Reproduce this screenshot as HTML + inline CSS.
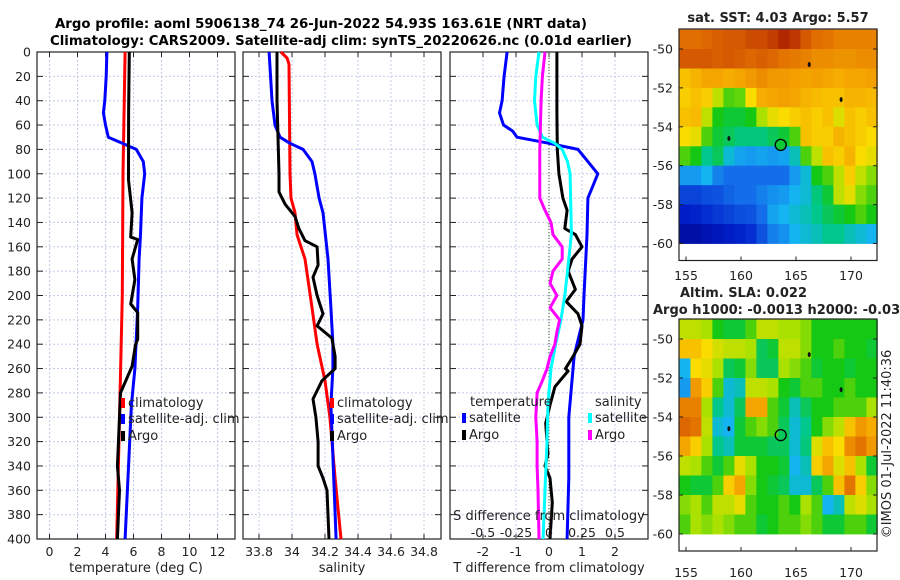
<!DOCTYPE html>
<html><head><meta charset="utf-8"><style>
html,body{margin:0;padding:0;background:#fff;}
svg{display:block;font-family:"DejaVu Sans","Liberation Sans",sans-serif;}
</style></head><body>
<svg id="fig" width="900" height="580" viewBox="0 0 900 580" xmlns="http://www.w3.org/2000/svg">
<text x="321" y="28" font-size="13" font-weight="bold" text-anchor="middle" textLength="532" lengthAdjust="spacingAndGlyphs">Argo profile: aoml 5906138_74 26-Jun-2022 54.93S 163.61E (NRT data)</text>
<text x="341" y="45" font-size="13" font-weight="bold" text-anchor="middle" textLength="582" lengthAdjust="spacingAndGlyphs">Climatology: CARS2009. Satellite-adj clim: synTS_20220626.nc (0.01d earlier)</text>
<g id="panels"></g>
<g id="maps"></g>
<text transform="translate(891,444) rotate(-90)" font-size="13" text-anchor="middle" fill="#222">©IMOS 01-Jul-2022 11:40:36</text>
</svg>
<script>
// ---------- profile data ----------
const tDepth = [0,20,40,50,60,70,75,80,90,100,120,150,170,210,260,290,400];
const tSat = [4.1,4.05,3.95,3.85,4.0,4.2,5.2,6.2,6.7,6.8,6.6,6.5,6.4,6.3,6.1,5.85,5.4];
const tClimDepth = [0,100,200,300,400];
const tClim = [5.4,5.25,5.2,5.0,4.8];
const tArgoDepth = [0,50,105,132,152,154,170,187,207,214,236,240,258,266,280,300,340,360,400];
const tArgo = [5.7,5.65,5.64,5.9,5.8,6.3,5.9,6.1,5.8,6.3,6.3,6.15,5.9,5.6,5.07,5.0,4.85,5.0,4.85];

const sArgoDepth = [0,40,70,100,115,125,135,145,155,160,175,185,200,215,225,235,250,260,270,285,300,320,340,350,360,400];
const sArgo = [33.909,33.909,33.915,33.921,33.921,33.958,34.018,34.042,34.079,34.152,34.158,34.127,34.152,34.188,34.152,34.242,34.261,34.261,34.182,34.127,34.145,34.158,34.158,34.188,34.212,34.224];
const sClimDepth = [0,5,10,100,120,132,150,170,210,240,270,300,350,400];
const sClim = [33.933,33.970,33.982,33.988,33.994,34.018,34.030,34.079,34.121,34.152,34.2,34.230,34.261,34.297];
const sSatDepth = [0,40,60,70,75,80,90,100,105,120,132,170,210,240,260,290,400];
const sSat = [33.861,33.879,33.897,33.927,33.988,34.067,34.121,34.139,34.145,34.164,34.188,34.218,34.236,34.248,34.248,34.236,34.267];

const dTSatDepth = [0,20,40,50,60,65,70,75,80,90,100,110,120,150,200,220,240,250,300,350,400];
const dTSat = [-1.27,-1.36,-1.42,-1.5,-1.38,-1.1,-0.97,0.0,0.88,1.18,1.48,1.33,1.18,1.15,1.06,1.03,0.85,0.76,0.6,0.6,0.55];
const dTArgoDepth = [0,50,80,100,120,130,145,150,160,170,180,195,205,215,225,240,250,260,262,275,290,305,320,330,340,350,370,400];
const dTArgo = [0.24,0.24,0.25,0.3,0.42,0.55,0.48,0.8,1.0,0.7,0.58,0.8,0.52,0.88,1.0,0.94,0.73,0.5,0.58,0.18,0.03,-0.1,-0.06,-0.03,-0.12,0.03,0.1,0.03];
const dSSatDepth = [0,20,40,60,70,75,80,90,100,150,180,200,220,240,260,290,320,360,400];
const dSSat = [-0.076,-0.1,-0.11,-0.09,-0.05,0.045,0.1,0.14,0.16,0.17,0.14,0.12,0.09,0.05,0.015,-0.008,-0.015,-0.03,-0.045];
const dSArgoDepth = [0,20,40,80,120,130,140,150,160,170,180,190,200,210,220,230,240,250,260,270,280,300,320,340,360,400];
const dSArgo = [-0.03,-0.05,-0.06,-0.07,-0.07,-0.03,0.015,0.03,0.1,0.1,0.03,0.008,0.06,0.008,0.08,0.06,0.045,0.008,-0.015,-0.05,-0.09,-0.1,-0.09,-0.09,-0.083,-0.076];

const depthTicks = [0,20,40,60,80,100,120,140,160,180,200,220,240,260,280,300,320,340,360,380,400];
const tTicks = [0,2,4,6,8,10,12];
const sTicks = [33.8,34,34.2,34.4,34.6,34.8];
const sTickLabels = ["33.8","34","34.2","34.4","34.6","34.8"];
const dTTicks = [-2,-1,0,1,2];
const dSTicks = [-0.5,-0.25,0,0.25,0.5];
const dSTickLabels = ["-0.5","-0.25","0","0.25","0.5"];

// ---------- map data (rows: lat -49..-60, cols: lon 154.4..172.4, 1 deg) ----------
const sstGrid = [
[.85,.85,.86,.87,.88,.88,.9,.9,.92,.95,.93,.88,.85,.84,.82,.82,.82,.82],
[.88,.88,.88,.87,.88,.87,.86,.87,.86,.84,.83,.82,.80,.80,.79,.79,.80,.80],
[.72,.74,.76,.76,.75,.76,.78,.80,.78,.78,.77,.76,.77,.76,.75,.76,.76,.77],
[.70,.72,.70,.62,.55,.56,.68,.75,.76,.77,.76,.74,.73,.72,.72,.74,.74,.73],
[.72,.73,.62,.52,.50,.50,.52,.60,.66,.68,.70,.72,.70,.72,.65,.72,.70,.72],
[.68,.66,.55,.50,.48,.46,.46,.46,.48,.50,.55,.72,.70,.70,.74,.72,.70,.68],
[.55,.52,.45,.48,.40,.36,.35,.36,.35,.36,.42,.55,.62,.72,.70,.74,.68,.66],
[.35,.35,.38,.32,.30,.30,.30,.30,.30,.30,.35,.40,.52,.55,.62,.70,.62,.58],
[.22,.22,.24,.25,.28,.30,.30,.32,.34,.35,.38,.40,.46,.50,.62,.66,.58,.55],
[.15,.16,.18,.20,.22,.24,.25,.30,.36,.38,.40,.42,.45,.48,.50,.52,.55,.52],
[.08,.08,.10,.12,.14,.16,.18,.25,.32,.34,.38,.40,.42,.45,.45,.42,.40,.38]];
const slaGrid = [
[.62,.62,.60,.52,.50,.50,.55,.62,.62,.60,.60,.58,.52,.52,.52,.52,.52,.52],
[.72,.72,.68,.64,.62,.62,.60,.48,.50,.62,.62,.58,.52,.52,.55,.52,.52,.50],
[.38,.68,.66,.60,.48,.50,.58,.48,.48,.60,.58,.55,.50,.52,.52,.50,.52,.52],
[.35,.78,.70,.55,.40,.42,.62,.62,.60,.52,.50,.55,.55,.52,.52,.55,.52,.52],
[.82,.82,.60,.45,.40,.48,.76,.76,.55,.50,.42,.48,.52,.52,.55,.55,.55,.60],
[.86,.84,.62,.40,.38,.50,.55,.58,.55,.48,.40,.45,.52,.58,.62,.72,.78,.75],
[.76,.70,.60,.45,.42,.50,.50,.50,.48,.48,.40,.46,.65,.72,.68,.80,.84,.78],
[.62,.60,.55,.50,.55,.66,.60,.52,.52,.50,.38,.42,.70,.76,.65,.72,.60,.50],
[.52,.50,.50,.55,.70,.76,.58,.52,.50,.48,.40,.40,.48,.55,.72,.84,.70,.58],
[.58,.60,.55,.62,.62,.66,.55,.52,.52,.55,.52,.60,.55,.38,.42,.62,.65,.60],
[.55,.60,.58,.60,.58,.55,.55,.50,.52,.55,.55,.58,.55,.50,.50,.55,.55,.50]];
const latTicks = [-50,-52,-54,-56,-58,-60];
const lonTicks = [155,160,165,170];
const argoLon = 163.61, argoLat = -54.93, argoSSTval = 0.5;
const islandLon = [166.2,169.1,158.9], islandLat = [-50.8,-52.6,-54.6];

const NS = "http://www.w3.org/2000/svg";
function mk(tag, attrs, parent){ const e=document.createElementNS(NS,tag); for(const k in attrs) e.setAttribute(k,attrs[k]); parent.appendChild(e); return e; }
const panels = document.getElementById('panels');
const maps = document.getElementById('maps');
const Y0=52, Y1=539;
const yD = d => Y0 + (Y1-Y0)*d/400;

function panel(name, left, right, xfun, ticks, labels, showY){
  const g = mk('g',{},panels);
  
  
  depthTicks.forEach(d=>{ mk('line',{x1:left,x2:right,y1:yD(d),y2:yD(d),stroke:'#c3cbea','stroke-width':1,'stroke-dasharray':'2,2'},g); });
  ticks.forEach((t,i)=>{
    const x=xfun(t);
    mk('line',{x1:x,x2:x,y1:Y0,y2:Y1,stroke:'#c3cbea','stroke-width':1,'stroke-dasharray':'2,2'},g);
    mk('line',{x1:x,x2:x,y1:Y1,y2:Y1-5,stroke:'#222'},g);
    mk('line',{x1:x,x2:x,y1:Y0,y2:Y0+5,stroke:'#222'},g);
    const tx = mk('text',{x:x,y:556,'font-size':12.5,'text-anchor':'middle',fill:'#222'},g);
    tx.textContent = labels[i];
    
    
  });
  depthTicks.forEach(d=>{
    mk('line',{x1:left,x2:left+6,y1:yD(d),y2:yD(d),stroke:'#222'},g);
    mk('line',{x1:right,x2:right-6,y1:yD(d),y2:yD(d),stroke:'#222'},g);
    if(showY){
      const tx = mk('text',{x:31,y:yD(d)+4.5,'font-size':12.5,'text-anchor':'end',fill:'#222'},g);
      tx.textContent = d;
      
      
    }
  });
  mk('rect',{x:left,y:Y0,width:right-left,height:Y1-Y0,fill:'none',stroke:'#222','stroke-width':1.2},g);
  return g;
}
function line(g, name, xs, ds, xfun, color){
  const pts = xs.map((v,i)=> xfun(v).toFixed(1)+','+yD(ds[i]).toFixed(1)).join(' ');
  const p = mk('polyline',{points:pts,fill:'none',stroke:color,'stroke-width':3,'stroke-linejoin':'round'},g);
  
  
}
function label(g,name,x,y,txt,anchor,size,weight){
  const t = mk('text',{x:x,y:y,'font-size':size||13,'text-anchor':anchor||'start',fill:'#222'},g);
  if(weight) t.setAttribute('font-weight',weight);
  t.textContent = txt;
  
  
  return t;
}
function legendEntry(g,name,x,y,color,txt){
  mk('rect',{x:x,y:y-9,width:4,height:10,fill:color},g);
  label(g,name,x+7,y,txt);
}

// Panel 1 temperature
const xT = t => 49.5 + 14*t;
const g1 = panel('temperature-panel',37,235,xT,tTicks,tTicks.map(String),true);
line(g1,'temperature-climatology-line',tClim,tClimDepth,xT,'#ff0000');
line(g1,'temperature-satellite-line',tSat,tDepth,xT,'#0000ff');
line(g1,'temperature-argo-line',tArgo,tArgoDepth,xT,'#000');
legendEntry(g1,'legend-climatology',121,407,'#ff0000','climatology');
legendEntry(g1,'legend-satellite-adj',121,423,'#0000ff','satellite-adj. clim');
legendEntry(g1,'legend-argo',121,440,'#000','Argo');
label(g1,'x-axis-title-temperature',136,572,'temperature (deg C)','middle');

// Panel 2 salinity
const xS = s => 259 + 165*(s-33.8);
const g2 = panel('salinity-panel',243,441,xS,sTicks,sTickLabels,false);
line(g2,'salinity-climatology-line',sClim,sClimDepth,xS,'#ff0000');
line(g2,'salinity-satellite-line',sSat,sSatDepth,xS,'#0000ff');
line(g2,'salinity-argo-line',sArgo,sArgoDepth,xS,'#000');
legendEntry(g2,'legend-climatology-sal',330,407,'#ff0000','climatology');
legendEntry(g2,'legend-satellite-adj-sal',330,423,'#0000ff','satellite-adj. clim');
legendEntry(g2,'legend-argo-sal',330,440,'#000','Argo');
label(g2,'x-axis-title-salinity',342,572,'salinity','middle');

// Panel 3 differences
const xDT = t => 549 + 33*t;
const xDS = s => 549 + 132*s;
const g3 = panel('difference-panel',450,648,xDT,dTTicks,dTTicks.map(String),false);
mk('line',{x1:xDT(0),x2:xDT(0),y1:Y0,y2:Y1,stroke:'#335522','stroke-width':1,'stroke-dasharray':'1,2'},g3);
line(g3,'tdiff-satellite-line',dTSat,dTSatDepth,xDT,'#0000ff');
line(g3,'tdiff-argo-line',dTArgo,dTArgoDepth,xDT,'#000');
line(g3,'sdiff-satellite-line',dSSat,dSSatDepth,xDS,'#00ffff');
line(g3,'sdiff-argo-line',dSArgo,dSArgoDepth,xDS,'#ff00ff');
label(g3,'legend-temperature-title',470,406,'temperature');
legendEntry(g3,'legend-tdiff-satellite',462,422,'#0000ff','satellite');
legendEntry(g3,'legend-tdiff-argo',462,439,'#000','Argo');
label(g3,'legend-salinity-title',595,406,'salinity');
legendEntry(g3,'legend-sdiff-satellite',588,422,'#00ffff','satellite');
legendEntry(g3,'legend-sdiff-argo',588,439,'#ff00ff','Argo');
label(g3,'s-diff-axis-title',549,520,'S difference from climatology','middle');
dSTicks.forEach((s,i)=>{ label(g3,'s-diff-tick-label',xDS(s),537,dSTickLabels[i],'middle',12.5); });
label(g3,'x-axis-title-tdiff',549,572,'T difference from climatology','middle');

// ---------- maps ----------
const cstops = [[0,[0,0,130]],[0.15,[0,30,200]],[0.3,[20,110,235]],[0.38,[20,180,240]],[0.45,[0,200,140]],[0.52,[20,200,20]],[0.6,[170,225,0]],[0.68,[250,220,0]],[0.76,[245,165,0]],[0.85,[225,110,0]],[0.93,[190,55,0]],[1,[150,0,0]]];
function cmap(v){
  v=Math.max(0,Math.min(1,v));
  for(let i=1;i<cstops.length;i++){
    if(v<=cstops[i][0]){ const a=cstops[i-1],b=cstops[i]; const f=(v-a[0])/(b[0]-a[0]);
      return 'rgb('+a[1].map((c,k)=>Math.round(c+(b[1][k]-c)*f)).join(',')+')'; }
  }
  return 'rgb(150,0,0)';
}
function drawMap(name, grid, top, lat50y, bottom, titleLines, showCircleFill, xLabY){
  const g = mk('g',{},maps);
  
  
  const left=679,right=877;
  const lonX = lon => 686 + (lon-155)*11;
  const latY = lat => lat50y + (-50-lat)*((bottom - lat50y)/10);
  const dataBottom = latY(-60);
  grid.forEach((row,r)=>{
    row.forEach((v,c)=>{
      const x0=lonX(154.4+c), x1=lonX(155.4+c);
      const y0=latY(-49+(-r)) , y1=latY(-50-r);
      const yy0 = Math.max(top, y0);
      const cell = mk('rect',{x:x0.toFixed(1),y:yy0.toFixed(1),width:(x1-x0+0.4).toFixed(1),height:(y1-yy0+0.4).toFixed(1),fill:cmap(v)},g);
      
      
    });
  });
  islandLon.forEach((lo,i)=>{ mk('ellipse',{cx:lonX(lo),cy:latY(islandLat[i]),rx:1.5,ry:2.5,fill:'#111'},g); });
  const circ = mk('circle',{cx:lonX(argoLon),cy:latY(argoLat),r:5.5,fill:showCircleFill?cmap(argoSSTval):'none',stroke:'#000','stroke-width':1.3},g);
  
  
  const fb = dataBottom + 17;
  mk('rect',{x:left,y:top,width:right-left,height:fb-top,fill:'none',stroke:'#222','stroke-width':1.2},g);
  latTicks.forEach(l=>{
    const y=latY(l);
    mk('line',{x1:left,x2:left+4,y1:y,y2:y,stroke:'#222'},g);
    mk('line',{x1:right,x2:right-4,y1:y,y2:y,stroke:'#222'},g);
    label(g,'map-lat-tick-label',673,y+4.5,String(l),'end',12.5);
  });
  lonTicks.forEach(l=>{
    const x=lonX(l);
    mk('line',{x1:x,x2:x,y1:fb,y2:fb-4,stroke:'#222'},g);
    label(g,'map-lon-tick-label',x,xLabY,String(l),'middle',12.5);
  });
  titleLines.forEach(t=>label(g,t[0],t[1],t[2],t[3],t[4],13,'bold'));
}
drawMap('sst-map', sstGrid, 29, 49, 243.5, [['sst-map-title',778,22,'sat. SST: 4.03 Argo: 5.57','middle']], true, 280);
drawMap('sla-map', slaGrid, 319, 339, 534, [['sla-map-title',680,297,'Altim. SLA: 0.022','start'],['sla-map-subtitle',653,314,'Argo h1000: -0.0013 h2000: -0.03','start']], false, 577);
</script>
</body></html>
